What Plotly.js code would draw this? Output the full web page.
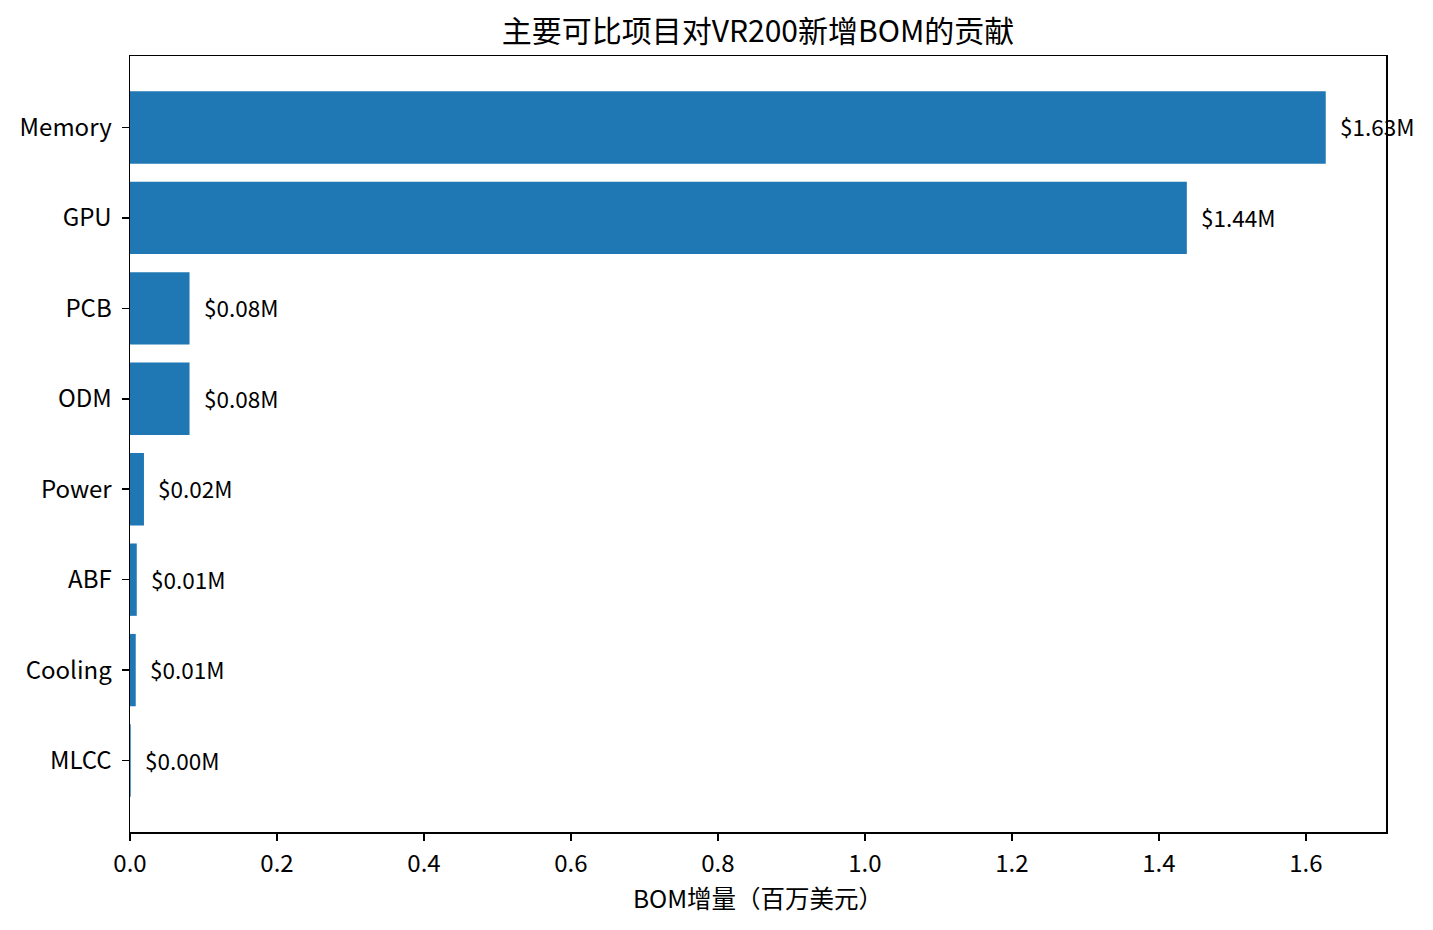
<!DOCTYPE html>
<html>
<head>
<meta charset="utf-8">
<script src="https://cdn.plot.ly/plotly-3.0.1.min.js"></script>
<style>
  html, body { margin: 0; padding: 0; background: #fff; }
  #chart { width: 1433px; height: 930px; }
</style>
</head>
<body>
<div id="chart"></div>
<script>
// BOM increment per item, in million USD
const categories = ["Memory", "GPU", "PCB", "ODM", "Power", "ABF", "Cooling", "MLCC"]
const values = [1.627, 1.438, 0.081, 0.081, 0.019, 0.0092, 0.0078, 0.001]
const xTicks = [0, 0.2, 0.4, 0.6, 0.8, 1.0, 1.2, 1.4, 1.6]

const font = "Noto Sans CJK SC, Noto Sans, sans-serif"

const trace = {
  type: "bar",
  orientation: "h",
  x: values,
  y: categories,
  marker: { color: "#1f77b4" },
  hoverinfo: "x+y",
}

const labels = values.map((v, i) => ({
  x: v,
  y: categories[i],
  text: "$" + v.toFixed(2) + "M",
  xanchor: "left",
  yanchor: "middle",
  xshift: 12,
  yshift: 1,
  showarrow: false,
  font: { family: font, size: 22.5, color: "#000" },
}))

const axisCommon = {
  showline: true,
  mirror: true,
  linecolor: "#000",
  linewidth: 1.5,
  ticks: "outside",
  ticklen: 7,
  tickwidth: 1.5,
  tickcolor: "#000",
  showgrid: false,
  zeroline: false,
  tickfont: { family: font, size: 24, color: "#000" },
}

const layout = {
  width: 1433,
  height: 930,
  margin: { l: 130, r: 47, t: 56, b: 98 },
  paper_bgcolor: "#fff",
  plot_bgcolor: "#fff",
  bargap: 0.2,
  showlegend: false,
  title: {
    text: "主要可比项目对VR200新增BOM的贡献",
    font: { family: font, size: 30, color: "#000" },
    x: 0.5,
    xref: "paper",
    xanchor: "center",
    y: 1,
    yref: "container",
    yanchor: "top",
    pad: { t: 21 },
  },
  xaxis: Object.assign({}, axisCommon, {
    range: [0, 1.709],
    tickvals: xTicks,
    tickformat: ".1f",
    ticklabelstandoff: 3,
    title: { text: "BOM增量（百万美元）", font: { family: font, size: 24.5, color: "#000" }, standoff: 12 },
  }),
  yaxis: Object.assign({}, axisCommon, {
    type: "category",
    categoryorder: "array",
    categoryarray: categories,
    range: [7.79, -0.79],
    ticklabelstandoff: 5,
  }),
  annotations: labels,
}

Plotly.newPlot("chart", [trace], layout, { staticPlot: true })
</script>
</body>
</html>
